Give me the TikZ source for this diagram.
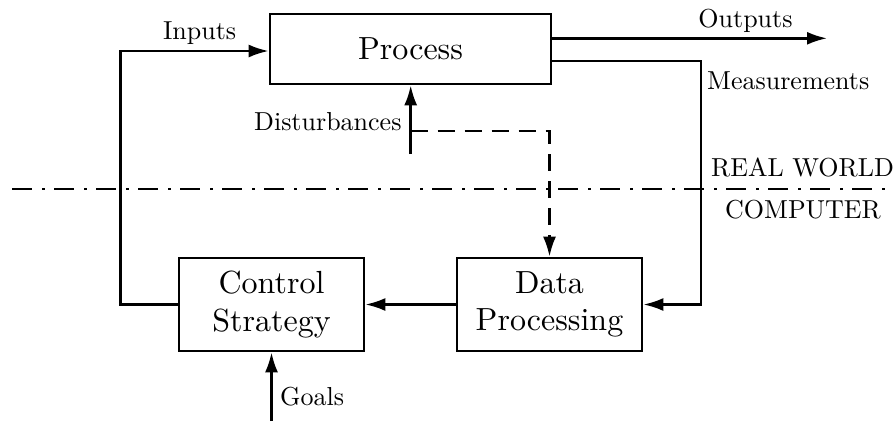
\documentclass[tikz,border=0pt]{standalone}
\usetikzlibrary{arrows.meta,calc}
\font\boxfont="[lmroman10-regular]" at 32pt
\font\lblfont="[lmroman10-regular]" at 26pt
\begin{document}
\begin{tikzpicture}[x=1pt,y=-1pt,
  conn/.style={line width=2.5pt,-{Latex[length=20pt,width=13pt]}},
  plain/.style={line width=2.5pt},
  box/.style={draw,line width=2.7pt,align=center,inner sep=0pt,
    font=\fontsize{32}{37.7}\selectfont\boxfont},
  lbl/.style={inner sep=0pt,font=\fontsize{26}{30}\selectfont\lblfont}]
\useasboundingbox (0,0) rectangle (894,421);
% boxes
\node[box,minimum width=281pt,minimum height=70pt] (proc) at (410.5,49) {Process};
\node[box,minimum width=185pt,minimum height=93pt] (ctrl) at (271.5,304.5) {Control\\Strategy};
\node[box,minimum width=185pt,minimum height=93pt] (data) at (549.5,304.5) {Data\\Processing};
% helper coordinates
\coordinate (inl) at (120.7,51);
\coordinate (outend) at (827,38.3);
\coordinate (meas) at (701,61);
\coordinate (dist) at (410.7,154);
\coordinate (dj) at (410.7,131);
\coordinate (goal) at (271.5,421);
\coordinate (rwl) at (12,189);
\coordinate (rwr) at (894,189);
% connectors
\draw[conn] (ctrl.west) -| (inl) -- (inl -| proc.west);
\draw[conn] (proc.east |- outend) -- (outend);
\draw[conn] (proc.east |- meas) -- (meas) |- (data.east);
\draw[conn] (dist) -- (dist |- proc.south);
\draw[conn,dash pattern=on 17pt off 10pt] (dj) -| (data.north);
\draw[conn] (data.west) -- (ctrl.east);
\draw[conn] (goal) -- (ctrl.south);
\draw[plain,dash pattern=on 20pt off 10pt on 3pt off 9pt] (rwl) -- (rwr);
% labels
\node[lbl,anchor=base] (tin) at (199.6,39) {Inputs};
\node[lbl,anchor=base] (tout) at (745.5,27) {Outputs};
\node[lbl,anchor=base west] (tmeas) at (707,89) {Measurements};
\node[lbl,anchor=base east] (tdist) at (401.7,130) {Disturbances};
\node[lbl,anchor=base west] (trw) at (711,176) {REAL WORLD};
\node[lbl,anchor=base] (tcomp) at (803,218) {COMPUTER};
\node[lbl,anchor=base west] (tgoal) at (280,405) {Goals};
\end{tikzpicture}
\end{document}
